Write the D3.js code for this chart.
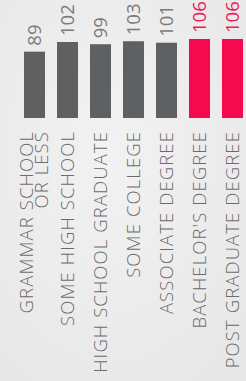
<!DOCTYPE html>
<html>
<head>
<meta charset="utf-8">
<script src="https://cdn.jsdelivr.net/npm/d3@7"></script>
<style>
  html, body { margin: 0; padding: 0; overflow: hidden; }
  body { width: 246px; height: 381px; background: #ededed; }
  svg { display: block; font-family: "Open Sans", sans-serif; }
</style>
</head>
<body>
<div></div>
<script>
let width = 246,
    height = 381;

// education levels, label lines
let categories = [
  ["GRAMMAR SCHOOL", "OR LESS"],
  ["SOME HIGH SCHOOL"],
  ["HIGH SCHOOL GRADUATE"],
  ["SOME COLLEGE"],
  ["ASSOCIATE DEGREE"],
  ["BACHELOR'S DEGREE"],
  ["POST GRADUATE DEGREE"]
];
let values = [89, 102, 99, 103, 101, 106, 106];
let highlight = [false, false, false, false, false, true, true];

let svg = d3.select("div").append("svg")
    .attr("width", width)
    .attr("height", height);

let defs = svg.append("defs");
let grad = defs.append("radialGradient").attr("id", "bg")
    .attr("cx", "45%").attr("cy", "40%").attr("r", "75%");
grad.append("stop").attr("offset", "0%").attr("stop-color", "#f2f2f2");
grad.append("stop").attr("offset", "100%").attr("stop-color", "#e7e7e7");

svg.append("rect")
    .attr("width", width).attr("height", height)
    .attr("fill", "url(#bg)");

let idx = d3.range(values.length);

let x = d3.scaleBand()
    .domain(idx)
    .range([12, 255])
    .paddingInner(0.364)
    .paddingOuter(0.364);

let y = d3.scaleLinear()
    .domain([0, 106])
    .range([118, 39]);

svg.selectAll("rect.bar")
  .data(idx)
  .enter().append("rect")
    .attr("class", "bar")
    .attr("x", function(i) { return x(i); })
    .attr("y", function(i) { return y(values[i]); })
    .attr("width", x.bandwidth())
    .attr("height", function(i) { return y(0) - y(values[i]); })
    .attr("fill", function(i) { return highlight[i] ? "#f5094f" : "#5f6062"; });

// value labels
svg.selectAll("text.val")
  .data(idx)
  .enter().append("text")
    .attr("class", "val")
    .attr("transform", function(i) {
      return "translate(" + (x(i) + x.bandwidth() / 2) + "," + (y(values[i]) - 6) + ") rotate(-90)";
    })
    .attr("dy", "0.36em")
    .attr("font-size", 18.5)
    .attr("fill", function(i) { return highlight[i] ? "#f2195c" : "#7a7a7a"; })
    .text(function(i) { return values[i]; });

// category labels
let lab = svg.selectAll("text.cat")
  .data(idx)
  .enter().append("text")
    .attr("class", "cat")
    .attr("transform", function(i) {
      return "translate(" + (x(i) + x.bandwidth() / 2) + ",131) rotate(-90)";
    })
    .attr("text-anchor", "end")
    .attr("font-size", 18.5)
    .attr("font-weight", 300)
    .attr("letter-spacing", 1.1)
    .attr("fill", "#6b6b6b");

lab.each(function(i) {
  let lines = categories[i];
  let t = d3.select(this);
  lines.forEach(function(l, k) {
    t.append("tspan")
      .attr("x", 0)
      .attr("dy", k === 0 ? (0.36 - (lines.length - 1) * 0.44) + "em" : "0.82em")
      .text(l);
  });
});
</script>
</body>
</html>
